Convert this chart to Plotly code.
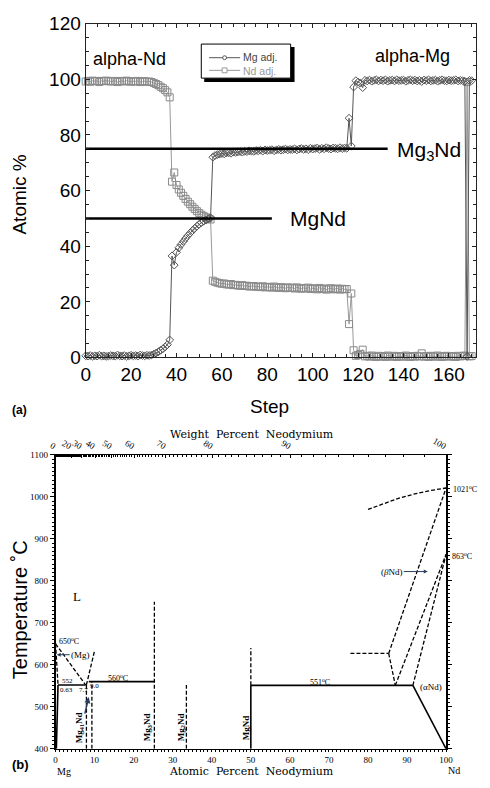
import plotly.graph_objects as go

W, H = 490, 788
def px(x): return min(1.0, max(0.0, x / W))
def py(y): return min(1.0, max(0.0, 1 - y / H))

# ---------------- (a) data ----------------
steps = list(range(0, 171))
mg_adj = [
    0.6, 0.5, 0.7, 0.4, 0.6, 0.5, 0.8, 0.5, 0.6, 0.4,
    0.5, 0.7, 0.6, 0.5, 0.9, 0.6, 0.5, 0.7, 0.4, 0.6,
    0.8, 0.6, 0.7, 0.5, 0.9, 0.7, 0.6, 0.8, 0.7, 0.9,
    1.2, 1.6, 2.0, 2.6, 3.1, 3.8, 4.6, 6.3, 36.5, 33.2,
    37.8, 39.4, 40.6, 41.7, 42.8, 43.8, 44.7, 45.6, 46.4, 47.2,
    47.9, 48.5, 49.0, 49.4, 49.8, 50.2, 72.0, 72.6, 72.9, 73.1,
    73.3, 73.2, 73.5, 73.6, 73.4, 73.8, 73.7, 73.9, 74.0, 73.8,
    74.1, 74.0, 74.3, 74.2, 74.1, 74.4, 74.3, 74.5, 74.2, 74.6,
    74.4, 74.5, 74.7, 74.3, 74.6, 74.8, 74.5, 74.7, 74.9, 74.6,
    74.8, 74.7, 75.0, 74.6, 74.9, 75.1, 74.8, 75.0, 74.7, 75.2,
    74.9, 75.1, 75.3, 74.8, 75.2, 75.0, 75.4, 75.1, 74.9, 75.3,
    75.2, 75.0, 75.4, 75.1, 75.3, 75.2, 86.0, 76.0, 97.2, 99.5,
    99.0, 98.6, 97.0, 99.6, 99.4, 99.7, 99.3, 99.6, 99.8, 99.4,
    99.7, 99.5, 99.8, 99.3, 99.6, 99.7, 99.4, 99.8, 99.5, 99.6,
    99.7, 99.3, 99.6, 99.8, 99.5, 99.7, 99.4, 99.6, 99.2, 99.7,
    99.5, 99.8, 99.4, 99.6, 99.7, 99.3, 99.6, 99.8, 99.5, 99.4,
    99.7, 99.5, 99.6, 99.8, 99.4, 99.6, 99.5, 99.3, 0.4, 99.6,
    99.5]
nd_adj = [
    99.2, 99.4, 99.1, 99.5, 99.3, 99.4, 99.0, 99.4, 99.3, 99.5,
    99.4, 99.2, 99.3, 99.4, 99.0, 99.3, 99.4, 99.2, 99.5, 99.3,
    99.1, 99.3, 99.2, 99.4, 99.0, 99.2, 99.3, 99.1, 99.2, 99.0,
    98.7, 98.3, 97.9, 97.3, 96.8, 96.1, 95.3, 93.5, 63.2, 66.5,
    62.0, 60.4, 59.2, 58.1, 57.0, 56.0, 55.1, 54.2, 53.4, 52.6,
    51.9, 51.3, 50.8, 50.4, 50.0, 49.6, 27.6, 27.2, 26.9, 26.7,
    26.5, 26.6, 26.3, 26.2, 26.4, 26.0, 26.1, 25.9, 25.8, 26.0,
    25.7, 25.8, 25.5, 25.6, 25.7, 25.4, 25.5, 25.3, 25.6, 25.2,
    25.4, 25.3, 25.1, 25.5, 25.2, 25.0, 25.3, 25.1, 24.9, 25.2,
    25.0, 25.1, 24.8, 25.2, 24.9, 24.7, 25.0, 24.8, 25.1, 24.6,
    24.9, 24.7, 24.5, 25.0, 24.6, 24.8, 24.4, 24.7, 24.9, 24.5,
    24.6, 24.8, 24.4, 24.7, 24.5, 24.6, 12.0, 23.0, 2.6, 0.6,
    0.9, 1.3, 2.8, 0.4, 0.6, 0.3, 0.7, 0.4, 0.2, 0.6,
    0.3, 0.5, 0.2, 0.7, 0.4, 0.3, 0.6, 0.2, 0.5, 0.4,
    0.3, 0.7, 0.4, 0.2, 0.5, 0.3, 0.6, 0.4, 1.5, 0.3,
    0.5, 0.2, 0.6, 0.4, 0.3, 0.7, 0.4, 0.2, 0.5, 0.6,
    0.3, 0.5, 0.4, 0.2, 0.6, 0.4, 0.5, 0.7, 99.0, 0.4,
    0.5]
mg3nd_x = [0, 133]
mg3nd_y = [75, 75]
mgnd_x = [0, 82]
mgnd_y = [50, 50]
legend_names = ["Mg adj.", "Nd adj."]

# ---------------- (b) data (atomic % Nd, temperature C) ----------------
solid_lines = [
    [(0.2, 400), (0.63, 552)],
    [(0.63, 552), (7.7, 552)],
    [(8.5, 560), (25.3, 560)],
    [(50, 400), (50, 551)],
    [(50, 551), (91.5, 551)],
    [(91.5, 551), (100, 400)],
]
dashed_lines = [
    [(0, 650), (7.7, 552)],
    [(0, 650), (0.63, 552)],
    [(7.9, 400), (7.9, 552)],
    [(9.3, 400), (9.3, 560)],
    [(7.9, 552), (10.0, 634)],
    [(25.3, 400), (25.3, 750)],
    [(33.5, 400), (33.5, 552)],
    [(50, 551), (50, 640)],
    [(75.5, 627), (85.3, 627)],
    [(85.3, 627), (87, 551)],
    [(85.3, 627), (100, 1021)],
    [(87, 551), (100, 863)],
    [(91.5, 551), (100, 863)],
    [(80, 970), (84, 984), (88, 997), (92, 1007), (96, 1015), (100, 1021)],
]
wt_tick_values = [0, 20, 30, 40, 50, 60, 70, 80, 90, 100]
wt_minor_values = list(range(1, 100))
M_ND, M_MG = 144.24, 24.305

def wt_to_at(w):
    if w >= 100:
        return 100.0
    a = w / M_ND
    b = (100 - w) / M_MG
    return 100 * a / (a + b)

MG_COL, ND_COL = "#555555", "#999999"

fig = go.Figure()

# ---- (a) traces ----
fig.add_trace(go.Scatter(
    x=steps, y=nd_adj, mode="lines+markers", name=legend_names[1],
    line=dict(color=ND_COL, width=1),
    marker=dict(symbol="square-open", size=7, color="#8a8a8a", line=dict(width=1)),
    xaxis="x", yaxis="y", cliponaxis=False, showlegend=False))
fig.add_trace(go.Scatter(
    x=steps, y=mg_adj, mode="lines+markers", name=legend_names[0],
    line=dict(color=MG_COL, width=1),
    marker=dict(symbol="diamond-open", size=6, color=MG_COL, line=dict(width=1)),
    xaxis="x", yaxis="y", cliponaxis=False, showlegend=False))
fig.add_trace(go.Scatter(x=mg3nd_x, y=mg3nd_y, mode="lines", line=dict(color="black", width=2.5),
                         showlegend=False, xaxis="x", yaxis="y"))
fig.add_trace(go.Scatter(x=mgnd_x, y=mgnd_y, mode="lines", line=dict(color="black", width=2.5),
                         showlegend=False, xaxis="x", yaxis="y"))

# ---- (b) traces ----
for seg in solid_lines:
    fig.add_trace(go.Scatter(x=[p[0] for p in seg], y=[p[1] for p in seg], mode="lines",
                             line=dict(color="black", width=1.6), showlegend=False,
                             xaxis="x2", yaxis="y2"))
for seg in dashed_lines:
    fig.add_trace(go.Scatter(x=[p[0] for p in seg], y=[p[1] for p in seg], mode="lines",
                             line=dict(color="black", width=1.3, dash="4px,2px"), showlegend=False,
                             xaxis="x2", yaxis="y2"))
# invisible trace to carry the weight-percent top axis
fig.add_trace(go.Scatter(x=[wt_to_at(w) for w in wt_tick_values], y=[1100] * len(wt_tick_values),
                         mode="markers", marker=dict(opacity=0), showlegend=False, hoverinfo="skip",
                         xaxis="x3", yaxis="y2"))

tickfont_a = dict(family="Liberation Sans, Arial", size=19, color="black")
tickfont_b = dict(family="Liberation Serif, serif", size=9, color="black")

fig.update_layout(
    width=W, height=H, margin=dict(l=0, r=0, t=0, b=0),
    paper_bgcolor="white", plot_bgcolor="white",
    showlegend=False,
    xaxis=dict(domain=[px(81), px(483)], range=[0, 172], anchor="y",
               showline=True, linecolor="#222", linewidth=1.2, mirror="ticks",
               ticks="inside", ticklen=4, tickcolor="#222", dtick=20, tick0=0,
               tickfont=tickfont_a, showgrid=False, zeroline=False,
               minor=dict(dtick=5, ticks="inside", ticklen=3, tickcolor="#222")),
    yaxis=dict(domain=[py(357), py(14)], range=[0, 120], anchor="x",
               showline=True, linecolor="#222", linewidth=1.2, mirror="ticks",
               ticks="inside", ticklen=4, tickcolor="#222", dtick=20, tick0=0,
               tickfont=tickfont_a, showgrid=False, zeroline=False,
               minor=dict(dtick=5, ticks="inside", ticklen=3, tickcolor="#222")),
    xaxis2=dict(domain=[px(50), px(452)], range=[0, 100], anchor="y2",
                showline=True, linecolor="black", linewidth=1, mirror=False,
                ticks="outside", ticklen=2, tickcolor="black", dtick=10, tick0=0,
                tickfont=tickfont_b, showgrid=False, zeroline=False,
                minor=dict(dtick=1, ticks="outside", ticklen=2, tickcolor="black")),
    xaxis3=dict(overlaying="x2", side="top", anchor="y2", range=[0, 100],
                showline=True, linecolor="black", linewidth=1,
                tickmode="array", tickvals=[wt_to_at(w) for w in wt_tick_values],
                ticktext=[str(w) for w in wt_tick_values],
                ticks="inside", ticklen=3, tickcolor="black",
                tickfont=tickfont_b, showgrid=False, zeroline=False,
                minor=dict(tickmode="array", tickvals=[wt_to_at(w) for w in wt_minor_values],
                           ticks="inside", ticklen=2, tickcolor="black")),
    yaxis2=dict(domain=[py(759), py(457)], range=[400, 1100], anchor="x2",
                showline=True, linecolor="black", linewidth=1.5, mirror="ticks",
                ticks="outside", ticklen=4, tickcolor="black", dtick=100, tick0=0,
                tickfont=tickfont_b, showgrid=False, zeroline=False,
                minor=dict(dtick=10, ticks="outside", ticklen=2, tickcolor="black")),
)

# legend box (manual): shadow, frame, sample lines + glyphs
LEG_Y = [49, 62]
shapes = []
shapes.append(dict(type="rect", xref="paper", yref="paper", x0=px(203), x1=px(296),
                   y0=py(74), y1=py(38), fillcolor="black", line=dict(width=0)))
shapes.append(dict(type="rect", xref="paper", yref="paper", x0=px(200), x1=px(292),
                   y0=py(70), y1=py(35), fillcolor="white", line=dict(color="black", width=1)))
for yy, col, kind in [(LEG_Y[0], MG_COL, "circle"), (LEG_Y[1], ND_COL, "rect")]:
    shapes.append(dict(type="line", xref="paper", yref="paper", x0=px(208), x1=px(240),
                       y0=py(yy), y1=py(yy), line=dict(color=col, width=1)))
    r = 2 if kind == "circle" else 2.5
    shapes.append(dict(type=kind, xref="paper", yref="paper", x0=px(224 - r), x1=px(224 + r),
                       y0=py(yy + r), y1=py(yy - r), fillcolor="white", line=dict(color=col, width=1)))
fig.update_layout(shapes=shapes)

ann = []
sans = "Liberation Sans, Arial"
serif = "Liberation Serif, serif"
def A(text, x, y, size, family=sans, xanchor="center", angle=0, color="black", **kw):
    ann.append(dict(text=text, x=x / W, y=1 - y / H, xref="paper", yref="paper",
                    xanchor=xanchor, yanchor="middle", showarrow=False, textangle=angle,
                    font=dict(family=family, size=size, color=color), **kw))

# legend texts (one block, two coloured lines)
A('<span style="color:#444444">%s</span><br><span style="color:#9a9a9a">%s</span>'
  % (legend_names[0], legend_names[1]), 241, 55.5, 10.5, xanchor="left", align="left")

# (a) labels
A("alpha-Nd", 86, 50, 18, xanchor="left")
A("alpha-Mg", 377, 47, 18, xanchor="left")
A("Mg<sub>3</sub>Nd", 399, 145, 21, xanchor="left")
A("MgNd", 289, 214, 21, xanchor="left")
A("Step", 270, 407, 19)
A("Atomic %", 13, 190, 19, angle=-90)
A("<b>(a)</b>", 3, 411, 12, xanchor="left")

# (b) labels
A("Weight  Percent  Neodymium", 252, 436, 11, family="DejaVu Serif, serif")
A("Atomic  Percent  Neodymium", 252, 782, 11, family="DejaVu Serif, serif")
A("Mg", 49, 782, 10, family=serif, xanchor="left")
A("Nd", 452, 781, 10, family=serif, xanchor="left")
A("<b>(b)</b>", 3, 775, 13, xanchor="left")
A("Temperature \u02daC", 13, 616, 20, angle=-90)
A("L", 72, 603, 13, family=serif)
A("650<sup>o</sup>C", 51, 648, 8, family=serif, xanchor="left")
A("552", 55, 689, 7, family=serif, xanchor="left")
A("0.63", 53, 699, 7, family=serif, xanchor="left")
A("7.7", 72, 699, 7, family=serif, xanchor="left")
A("9.0", 83, 694, 7, family=serif, xanchor="left")
A("560<sup>o</sup>C", 102, 686, 8, family=serif, xanchor="left")
A("551<sup>o</sup>C", 310, 690, 8, family=serif, xanchor="left")
A("(\u03b1Nd)", 423, 696, 9, family=serif, xanchor="left")
A("1021<sup>o</sup>C", 457, 492, 8, family=serif, xanchor="left")
A("863<sup>o</sup>C", 456, 561, 8, family=serif, xanchor="left")
for txt, x in [("<b>Mg<sub>41</sub>Nd</b>", 75), ("<b>Mg<sub>3</sub>Nd</b>", 145),
               ("<b>Mg<sub>2</sub>Nd</b>", 179), ("<b>MgNd</b>", 246)]:
    A(txt, x, 737, 9, family=serif, angle=-90)

# arrows
ann.append(dict(text="(Mg)", x=0.3, y=624, xref="x2", yref="y2", ax=24, ay=0,
                showarrow=True, arrowhead=2, arrowsize=0.8, arrowwidth=1, standoff=0,
                font=dict(family=serif, size=9, color="black")))
ann.append(dict(text="(<i>\u03b2</i>Nd)", x=95.3, y=822, xref="x2", yref="y2", ax=-36, ay=0,
                showarrow=True, arrowhead=2, arrowsize=0.8, arrowwidth=1, standoff=0,
                font=dict(family=serif, size=9, color="black")))
ann.append(dict(text=" ", x=8.5, y=523, xref="x2", yref="y2", ax=-5, ay=21,
                showarrow=True, arrowhead=2, arrowsize=0.8, arrowwidth=1.5, standoff=0,
                font=dict(family=serif, size=6, color="black")))

fig.update_layout(annotations=ann)
fig.write_html("out.html")
